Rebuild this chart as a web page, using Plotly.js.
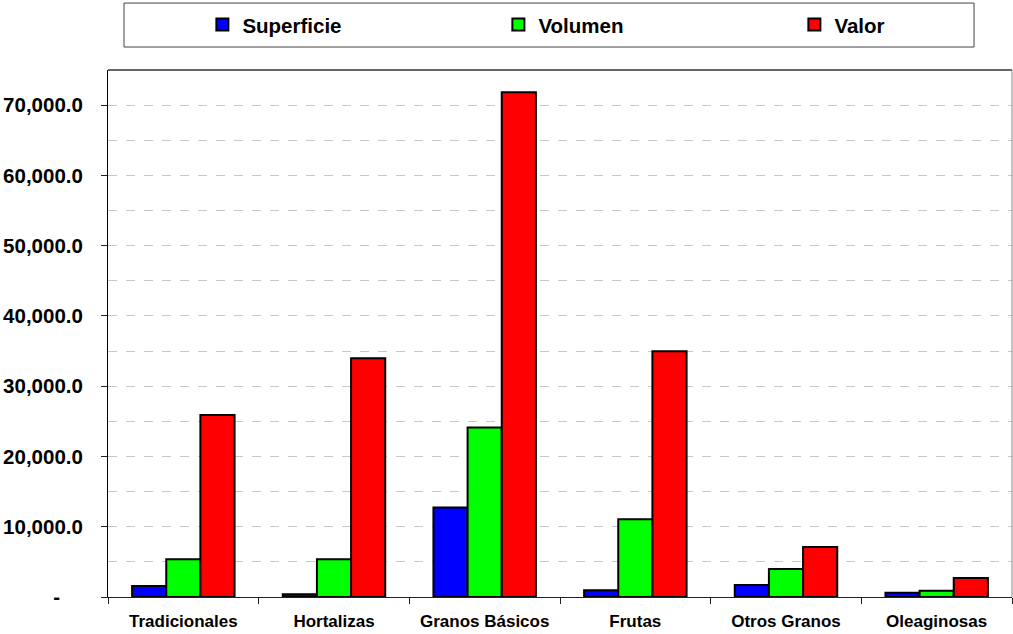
<!DOCTYPE html>
<html>
<head>
<meta charset="utf-8">
<script src="https://cdn.plot.ly/plotly-3.0.1.min.js"></script>
<style>html,body{margin:0;padding:0;background:#fff;}#chart{width:1013px;height:634px;}</style>
</head>
<body>
<div id="chart"></div>
<script>
var categories = ["Tradicionales", "Hortalizas", "Granos Básicos", "Frutas", "Otros Granos", "Oleaginosas"];
var superficie = [1550, 380, 12740, 950, 1700, 600];
var volumen = [5380, 5370, 24130, 11070, 4000, 900];
var valor = [25900, 33960, 71850, 34960, 7100, 2700];
var seriesNames = ["Superficie", "Volumen", "Valor"];
var seriesColors = ["#0000FF", "#00FF00", "#FF0000"];
var yTickVals = [0, 10000, 20000, 30000, 40000, 50000, 60000, 70000];
var yTickText = ["-\u00a0\u00a0\u00a0\u00a0", "10,000.0", "20,000.0", "30,000.0", "40,000.0", "50,000.0", "60,000.0", "70,000.0"];

var seriesValues = [superficie, volumen, valor];
var fam = "Liberation Sans, Arial, sans-serif";

var traces = seriesNames.map(function (n, i) {
  return {
    type: "bar",
    name: n,
    x: categories,
    y: seriesValues[i],
    marker: {color: seriesColors[i], line: {color: "#000", width: 2}},
    hoverinfo: "x+y"
  };
});

var layout = {
  width: 1013,
  height: 634,
  margin: {l: 108, r: 1, t: 70, b: 37, autoexpand: false},
  paper_bgcolor: "#fff",
  plot_bgcolor: "#fff",
  barmode: "group",
  bargap: 0.32,
  bargroupgap: 0,
  font: {family: fam, weight: "bold", color: "#000"},
  showlegend: true,
  legend: {
    orientation: "h",
    x: 0.1044, xanchor: "left",
    y: 1.086, yanchor: "middle",
    entrywidth: 251,
    font: {family: fam, weight: "bold", size: 20.5, color: "#000"},
    bgcolor: "rgba(0,0,0,0)",
    borderwidth: 0
  },
  xaxis: {
    type: "category",
    showgrid: false,
    showline: true, linecolor: "#222", linewidth: 1,
    ticks: "outside", tickson: "boundaries", ticklen: 6, tickcolor: "#222",
    tickfont: {family: fam, weight: "bold", size: 17, color: "#000"},
    ticklabelstandoff: 9,
    zeroline: false,
    fixedrange: true
  },
  yaxis: {
    range: [0, 75000],
    tickvals: yTickVals,
    ticktext: yTickText,
    ticks: "outside", ticklen: 6, tickcolor: "#222",
    tickfont: {family: fam, weight: "bold", size: 20.5, color: "#000"},
    ticklabelstandoff: 14,
    showline: true, linecolor: "#000", linewidth: 1,
    showgrid: true, gridcolor: "#c8c8c8", griddash: "dash", gridwidth: 1,
    minor: {dtick: 5000, showgrid: true, gridcolor: "#c8c8c8", griddash: "dash", gridwidth: 1, ticks: ""},
    zeroline: false,
    fixedrange: true
  },
  shapes: [
    {type: "line", xref: "paper", yref: "paper", x0: 0, x1: 1, y0: 1, y1: 1, line: {color: "#333", width: 1.5}},
    {type: "line", xref: "paper", yref: "paper", x0: 1, x1: 1, y0: 0, y1: 1, line: {color: "#888", width: 1}},
    {type: "rect", xref: "paper", yref: "paper", x0: 0.0177, x1: 0.958, y0: 1.0436, y1: 1.127, line: {color: "#444", width: 1}, fillcolor: "rgba(0,0,0,0)", layer: "below"}
  ]
};

Plotly.newPlot("chart", traces, layout, {displayModeBar: false});
</script>
</body>
</html>
